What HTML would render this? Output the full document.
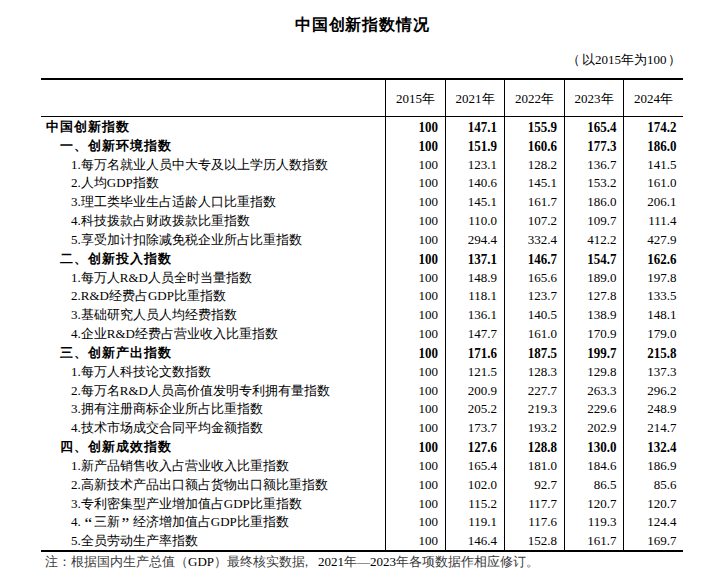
<!DOCTYPE html>
<html><head><meta charset="utf-8"><style>
html,body{margin:0;padding:0;background:#fff;width:712px;height:588px;overflow:hidden;position:relative;color:#000}
body{font-family:"Liberation Serif",serif;font-size:13px;text-spacing-trim:space-all}
.ln{position:absolute;background:#000}
.title{position:absolute;top:13px;left:295px;font-size:16px;font-weight:bold;letter-spacing:0.8px;line-height:24px;white-space:nowrap}
.unit{position:absolute;top:51px;left:569px;line-height:18px;white-space:nowrap}
.hdr{position:absolute;top:90px;line-height:18px;white-space:nowrap;text-align:center}
.row{position:absolute;left:0;width:712px;height:19px;line-height:19px}
.lab{position:absolute;top:0;white-space:nowrap}
.num{position:absolute;top:0;white-space:nowrap;text-align:right}
.b{font-weight:bold}
.b .num{transform:scaleY(1.2);transform-origin:50% 50%}
.q{display:inline-block;width:13px;text-align:center;transform:scale(1.35);transform-origin:50% 35%;position:relative}
.b .cjk{letter-spacing:1px}
.note{position:absolute;top:553px;left:45px;line-height:18px;white-space:nowrap;color:#3a3a3a}
.note .d{color:#000}
</style></head><body>
<div class="title">中国创新指数情况</div>
<div class="unit"><span style="position:relative;left:-2px">（</span>以2015年为100<span style="position:relative;left:1px">）</span></div>
<div class="ln" style="left:41px;top:78px;width:642px;height:2px"></div>
<div class="ln" style="left:41px;top:116px;width:642px;height:1px"></div>
<div class="ln" style="left:41px;top:550px;width:642px;height:2px"></div>
<div class="ln" style="left:385px;top:80px;width:1px;height:470px"></div>
<div class="ln" style="left:445px;top:80px;width:1px;height:470px"></div>
<div class="ln" style="left:504px;top:80px;width:1px;height:470px"></div>
<div class="ln" style="left:564px;top:80px;width:1px;height:470px"></div>
<div class="ln" style="left:623px;top:80px;width:1px;height:470px"></div>
<div class="hdr" style="left:386px;width:59px">2015年</div>
<div class="hdr" style="left:446px;width:58px">2021年</div>
<div class="hdr" style="left:505px;width:59px">2022年</div>
<div class="hdr" style="left:565px;width:58px">2023年</div>
<div class="hdr" style="left:624px;width:59px">2024年</div>
<div class="row b" style="top:117.00px">
<div class="lab" style="left:46px"><span class="cjk">中国创新指数</span></div>
<div class="num" style="right:274.0px">100</div>
<div class="num" style="right:215.0px">147.1</div>
<div class="num" style="right:155.0px">155.9</div>
<div class="num" style="right:95.5px">165.4</div>
<div class="num" style="right:35.5px">174.2</div>
</div>
<div class="row b" style="top:135.83px">
<div class="lab" style="left:60px"><span class="cjk">一、创新环境指数</span></div>
<div class="num" style="right:274.0px">100</div>
<div class="num" style="right:215.0px">151.9</div>
<div class="num" style="right:155.0px">160.6</div>
<div class="num" style="right:95.5px">177.3</div>
<div class="num" style="right:35.5px">186.0</div>
</div>
<div class="row" style="top:154.66px">
<div class="lab" style="left:71px"><span class="lat">1.</span><span class="cjk">每万名就业人员中大专及以上学历人数指数</span></div>
<div class="num" style="right:274.0px">100</div>
<div class="num" style="right:215.0px">123.1</div>
<div class="num" style="right:155.0px">128.2</div>
<div class="num" style="right:95.5px">136.7</div>
<div class="num" style="right:35.5px">141.5</div>
</div>
<div class="row" style="top:173.49px">
<div class="lab" style="left:71px"><span class="lat">2.</span><span class="cjk">人均</span><span class="lat">GDP</span><span class="cjk">指数</span></div>
<div class="num" style="right:274.0px">100</div>
<div class="num" style="right:215.0px">140.6</div>
<div class="num" style="right:155.0px">145.1</div>
<div class="num" style="right:95.5px">153.2</div>
<div class="num" style="right:35.5px">161.0</div>
</div>
<div class="row" style="top:192.32px">
<div class="lab" style="left:71px"><span class="lat">3.</span><span class="cjk">理工类毕业生占适龄人口比重指数</span></div>
<div class="num" style="right:274.0px">100</div>
<div class="num" style="right:215.0px">145.1</div>
<div class="num" style="right:155.0px">161.7</div>
<div class="num" style="right:95.5px">186.0</div>
<div class="num" style="right:35.5px">206.1</div>
</div>
<div class="row" style="top:211.15px">
<div class="lab" style="left:71px"><span class="lat">4.</span><span class="cjk">科技拨款占财政拨款比重指数</span></div>
<div class="num" style="right:274.0px">100</div>
<div class="num" style="right:215.0px">110.0</div>
<div class="num" style="right:155.0px">107.2</div>
<div class="num" style="right:95.5px">109.7</div>
<div class="num" style="right:35.5px">111.4</div>
</div>
<div class="row" style="top:229.98px">
<div class="lab" style="left:71px"><span class="lat">5.</span><span class="cjk">享受加计扣除减免税企业所占比重指数</span></div>
<div class="num" style="right:274.0px">100</div>
<div class="num" style="right:215.0px">294.4</div>
<div class="num" style="right:155.0px">332.4</div>
<div class="num" style="right:95.5px">412.2</div>
<div class="num" style="right:35.5px">427.9</div>
</div>
<div class="row b" style="top:248.81px">
<div class="lab" style="left:60px"><span class="cjk">二、创新投入指数</span></div>
<div class="num" style="right:274.0px">100</div>
<div class="num" style="right:215.0px">137.1</div>
<div class="num" style="right:155.0px">146.7</div>
<div class="num" style="right:95.5px">154.7</div>
<div class="num" style="right:35.5px">162.6</div>
</div>
<div class="row" style="top:267.64px">
<div class="lab" style="left:71px"><span class="lat">1.</span><span class="cjk">每万人</span><span class="lat">R&amp;D</span><span class="cjk">人员全时当量指数</span></div>
<div class="num" style="right:274.0px">100</div>
<div class="num" style="right:215.0px">148.9</div>
<div class="num" style="right:155.0px">165.6</div>
<div class="num" style="right:95.5px">189.0</div>
<div class="num" style="right:35.5px">197.8</div>
</div>
<div class="row" style="top:286.47px">
<div class="lab" style="left:71px"><span class="lat">2.R&amp;D</span><span class="cjk">经费占</span><span class="lat">GDP</span><span class="cjk">比重指数</span></div>
<div class="num" style="right:274.0px">100</div>
<div class="num" style="right:215.0px">118.1</div>
<div class="num" style="right:155.0px">123.7</div>
<div class="num" style="right:95.5px">127.8</div>
<div class="num" style="right:35.5px">133.5</div>
</div>
<div class="row" style="top:305.30px">
<div class="lab" style="left:71px"><span class="lat">3.</span><span class="cjk">基础研究人员人均经费指数</span></div>
<div class="num" style="right:274.0px">100</div>
<div class="num" style="right:215.0px">136.1</div>
<div class="num" style="right:155.0px">140.5</div>
<div class="num" style="right:95.5px">138.9</div>
<div class="num" style="right:35.5px">148.1</div>
</div>
<div class="row" style="top:324.13px">
<div class="lab" style="left:71px"><span class="lat">4.</span><span class="cjk">企业</span><span class="lat">R&amp;D</span><span class="cjk">经费占营业收入比重指数</span></div>
<div class="num" style="right:274.0px">100</div>
<div class="num" style="right:215.0px">147.7</div>
<div class="num" style="right:155.0px">161.0</div>
<div class="num" style="right:95.5px">170.9</div>
<div class="num" style="right:35.5px">179.0</div>
</div>
<div class="row b" style="top:342.96px">
<div class="lab" style="left:60px"><span class="cjk">三、创新产出指数</span></div>
<div class="num" style="right:274.0px">100</div>
<div class="num" style="right:215.0px">171.6</div>
<div class="num" style="right:155.0px">187.5</div>
<div class="num" style="right:95.5px">199.7</div>
<div class="num" style="right:35.5px">215.8</div>
</div>
<div class="row" style="top:361.79px">
<div class="lab" style="left:71px"><span class="lat">1.</span><span class="cjk">每万人科技论文数指数</span></div>
<div class="num" style="right:274.0px">100</div>
<div class="num" style="right:215.0px">121.5</div>
<div class="num" style="right:155.0px">128.3</div>
<div class="num" style="right:95.5px">129.8</div>
<div class="num" style="right:35.5px">137.3</div>
</div>
<div class="row" style="top:380.62px">
<div class="lab" style="left:71px"><span class="lat">2.</span><span class="cjk">每万名</span><span class="lat">R&amp;D</span><span class="cjk">人员高价值发明专利拥有量指数</span></div>
<div class="num" style="right:274.0px">100</div>
<div class="num" style="right:215.0px">200.9</div>
<div class="num" style="right:155.0px">227.7</div>
<div class="num" style="right:95.5px">263.3</div>
<div class="num" style="right:35.5px">296.2</div>
</div>
<div class="row" style="top:399.45px">
<div class="lab" style="left:71px"><span class="lat">3.</span><span class="cjk">拥有注册商标企业所占比重指数</span></div>
<div class="num" style="right:274.0px">100</div>
<div class="num" style="right:215.0px">205.2</div>
<div class="num" style="right:155.0px">219.3</div>
<div class="num" style="right:95.5px">229.6</div>
<div class="num" style="right:35.5px">248.9</div>
</div>
<div class="row" style="top:418.28px">
<div class="lab" style="left:71px"><span class="lat">4.</span><span class="cjk">技术市场成交合同平均金额指数</span></div>
<div class="num" style="right:274.0px">100</div>
<div class="num" style="right:215.0px">173.7</div>
<div class="num" style="right:155.0px">193.2</div>
<div class="num" style="right:95.5px">202.9</div>
<div class="num" style="right:35.5px">214.7</div>
</div>
<div class="row b" style="top:437.11px">
<div class="lab" style="left:60px"><span class="cjk">四、创新成效指数</span></div>
<div class="num" style="right:274.0px">100</div>
<div class="num" style="right:215.0px">127.6</div>
<div class="num" style="right:155.0px">128.8</div>
<div class="num" style="right:95.5px">130.0</div>
<div class="num" style="right:35.5px">132.4</div>
</div>
<div class="row" style="top:455.94px">
<div class="lab" style="left:71px"><span class="lat">1.</span><span class="cjk">新产品销售收入占营业收入比重指数</span></div>
<div class="num" style="right:274.0px">100</div>
<div class="num" style="right:215.0px">165.4</div>
<div class="num" style="right:155.0px">181.0</div>
<div class="num" style="right:95.5px">184.6</div>
<div class="num" style="right:35.5px">186.9</div>
</div>
<div class="row" style="top:474.77px">
<div class="lab" style="left:71px"><span class="lat">2.</span><span class="cjk">高新技术产品出口额占货物出口额比重指数</span></div>
<div class="num" style="right:274.0px">100</div>
<div class="num" style="right:215.0px">102.0</div>
<div class="num" style="right:155.0px">92.7</div>
<div class="num" style="right:95.5px">86.5</div>
<div class="num" style="right:35.5px">85.6</div>
</div>
<div class="row" style="top:493.60px">
<div class="lab" style="left:71px"><span class="lat">3.</span><span class="cjk">专利密集型产业增加值占</span><span class="lat">GDP</span><span class="cjk">比重指数</span></div>
<div class="num" style="right:274.0px">100</div>
<div class="num" style="right:215.0px">115.2</div>
<div class="num" style="right:155.0px">117.7</div>
<div class="num" style="right:95.5px">120.7</div>
<div class="num" style="right:35.5px">120.7</div>
</div>
<div class="row" style="top:512.43px">
<div class="lab" style="left:71px"><span class="lat">4.</span><span class="cjk"><span class="q" style="left:1px">“</span></span><span class="cjk">三新</span><span class="cjk"><span class="q" style="left:-1px">”</span></span><span class="cjk">经济增加值占</span><span class="lat">GDP</span><span class="cjk">比重指数</span></div>
<div class="num" style="right:274.0px">100</div>
<div class="num" style="right:215.0px">119.1</div>
<div class="num" style="right:155.0px">117.6</div>
<div class="num" style="right:95.5px">119.3</div>
<div class="num" style="right:35.5px">124.4</div>
</div>
<div class="row" style="top:531.26px">
<div class="lab" style="left:71px"><span class="lat">5.</span><span class="cjk">全员劳动生产率指数</span></div>
<div class="num" style="right:274.0px">100</div>
<div class="num" style="right:215.0px">146.4</div>
<div class="num" style="right:155.0px">152.8</div>
<div class="num" style="right:95.5px">161.7</div>
<div class="num" style="right:35.5px">169.7</div>
</div>
<div class="note">注：根据国内生产总值（<span class="d">GDP</span>）最终核实数据<span style="position:relative;left:-5px">，</span><span class="d">2021</span>年—<span class="d">2023</span>年各项数据作相应修订。</div>
</body></html>
